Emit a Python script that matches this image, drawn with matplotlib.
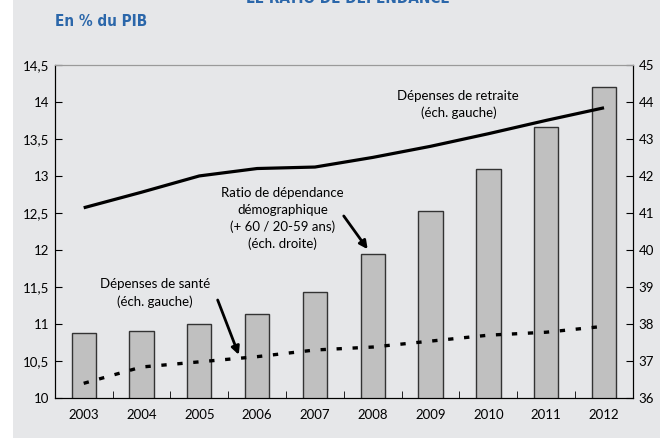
import numpy as np
import matplotlib.pyplot as plt
from matplotlib.ticker import FuncFormatter, MultipleLocator
from matplotlib.patches import Rectangle

# data
years = [2003, 2004, 2005, 2006, 2007, 2008, 2009, 2010, 2011, 2012]
ratio_dependance = [37.76, 37.81, 38.0, 38.26, 38.86, 39.89, 41.06, 42.18, 43.33, 44.4]
dep_retraite = [12.57, 12.78, 13.0, 13.1, 13.12, 13.25, 13.4, 13.57, 13.75, 13.92]
dep_sante = [10.2, 10.42, 10.49, 10.56, 10.65, 10.69, 10.77, 10.85, 10.89, 10.97]

bg = '#e6e7e9'
blue = '#2b67aa'
plt.rcParams['font.family'] = ['Lato', 'DejaVu Sans']
plt.rcParams['font.size'] = 9.5

fig = plt.figure(figsize=(6.6, 4.38), dpi=100, facecolor='white')
fig.patches.append(Rectangle((0.02, 0), 0.98, 1, transform=fig.transFigure,
                             facecolor=bg, edgecolor='none', zorder=-10))

ax2 = fig.add_axes([0.083, 0.091, 0.876, 0.761])
ax = ax2.twinx()
ax.yaxis.tick_left()
ax.yaxis.set_label_position('left')
ax2.yaxis.tick_right()
ax.set_zorder(ax2.get_zorder() + 1)
ax.patch.set_visible(False)
ax2.set_facecolor(bg)

ax2.bar(years, ratio_dependance, width=0.42, color='#c0c0c0', edgecolor='#333333', linewidth=1)
ax2.set_ylim(36, 45)
ax2.yaxis.set_major_locator(MultipleLocator(1))

ax.plot(years, dep_retraite, color='black', lw=2.3, solid_capstyle='butt')
ax.plot(years, dep_sante, color='black', lw=2.4, linestyle=(0, (1.6, 3.2)))
ax.set_ylim(10, 14.5)
ax.yaxis.set_major_locator(MultipleLocator(0.5))
ax.yaxis.set_major_formatter(FuncFormatter(lambda v, p: ('%g' % v).replace('.', ',')))

ax.set_xlim(2002.5, 2012.5)
ax.set_xticks(years)
ax.set_xticks(np.arange(2003.5, 2012, 1), minor=True)
for a in (ax, ax2):
    a.tick_params(axis='x', which='major', length=0, pad=8)
    a.tick_params(axis='x', which='minor', direction='in', length=5)
    a.tick_params(axis='y', direction='in', length=5, pad=4)
    a.spines['top'].set_color('#9a9a9a')
ax2.tick_params(axis='y', labelright=True, labelleft=False)
ax.tick_params(axis='y', labelleft=True, labelright=False)

ax.text(2009.48, 13.96, 'Dépenses de retraite\n(éch. gauche)', ha='center', va='center',
        linespacing=1.45)
ax.text(2006.44, 12.42, 'Ratio de dépendance\ndémographique\n(+ 60 / 20-59 ans)\n(éch. droite)',
        ha='center', va='center', linespacing=1.45)
ax.text(2004.23, 11.42, 'Dépenses de santé\n(éch. gauche)', ha='center', va='center',
        linespacing=1.45)
ax.annotate('', xy=(2007.94, 11.98), xytext=(2007.47, 12.49),
            arrowprops=dict(arrowstyle='-|>', color='black', lw=2, mutation_scale=12))
ax.annotate('', xy=(2005.70, 10.55), xytext=(2005.30, 11.36),
            arrowprops=dict(arrowstyle='-|>', color='black', lw=2, mutation_scale=12))

fig.text(0.527, 0.993, 'LE RATIO DE DÉPENDANCE', ha='center', va='baseline', color=blue,
         fontsize=11, fontweight='bold', family='DejaVu Sans', fontstretch='condensed')
fig.text(0.083, 0.952, 'En % du PIB', ha='left', va='center', color=blue,
         fontsize=11, fontweight='bold', family='DejaVu Sans', fontstretch='condensed')

fig.savefig('out.png', dpi=100, facecolor=fig.get_facecolor())
